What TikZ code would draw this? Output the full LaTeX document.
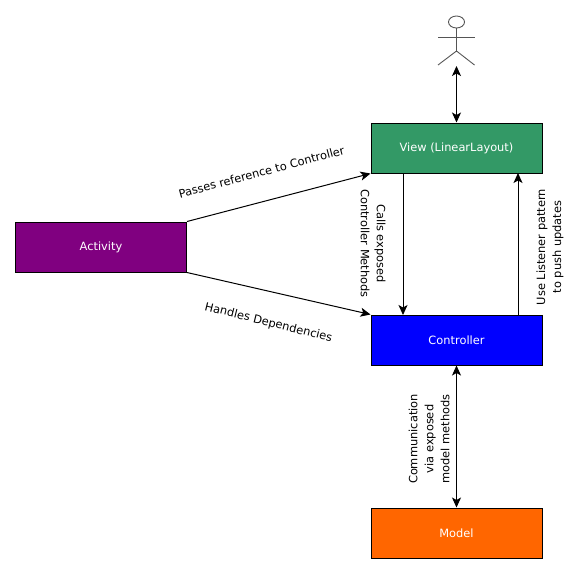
\documentclass[tikz,border=0pt]{standalone}
\usepackage{fontspec}
\setmainfont{DejaVu Sans}
\usetikzlibrary{arrows.meta}
\definecolor{viewgreen}{HTML}{339966}
\definecolor{actpurple}{HTML}{800080}
\definecolor{ctrlblue}{HTML}{0000FF}
\definecolor{modelorange}{HTML}{FF6600}
\definecolor{actorgrey}{HTML}{555555}
\tikzset{
  block/.style={draw=black,line width=1pt,minimum width=171pt,minimum height=50pt,inner sep=0pt,text=white,font=\fontsize{11.4}{13}\selectfont},
  conn/.style={line width=1pt,-{Stealth[length=10pt,width=9pt,inset=2.5pt]}},
  biconn/.style={line width=1pt,{Stealth[length=10pt,width=9pt,inset=2.5pt]}-{Stealth[length=10pt,width=9pt,inset=2.5pt]}},
  lbl/.style={inner sep=0pt,align=center,text=black,font=\fontsize{11.4}{16}\selectfont},
  actorline/.style={draw=actorgrey,line width=0.9pt}
}
\begin{document}
\begin{tikzpicture}[x=1pt,y=-1pt]
\useasboundingbox (0,0) rectangle (580,574);
\node[block,fill=viewgreen] (v) at (456.5,148) {\raisebox{-1.5pt}{View (LinearLayout)}};
\node[block,fill=actpurple] (a) at (101,247) {\raisebox{-1.5pt}{Activity}};
\node[block,fill=ctrlblue] (c) at (456.5,340) {\raisebox{-1.5pt}{Controller}};
\node[block,fill=modelorange] (m) at (456.5,533) {\raisebox{-1.5pt}{Model}};
% actor
\draw[actorline] (456.5,22) ellipse (8pt and 6pt);
\draw[actorline] (456.5,28) -- (456.5,51);
\draw[actorline] (438,37) -- (474.5,37);
\draw[actorline] (438,65) -- (456.5,51) -- (474.5,65);
\coordinate (foot) at (456.5,66);
\coordinate (vl) at (403,173);
\coordinate (vr) at (518,173);
\coordinate (cl) at (403,315);
\coordinate (cr) at (518,315);
\draw[biconn] (foot) -- (v.north);
\draw[conn] (a.north east) -- (v.south west);
\draw[conn] (a.south east) -- (c.north west);
\draw[conn] (vl) -- (cl);
\draw[conn] (cr) -- (vr);
\draw[biconn] (c.south) -- (m.north);
\node[lbl,rotate=15] (l1) at (261.5,172) {Passes reference to Controller};
\node[lbl,rotate=-14] (l2) at (268.5,323) {Handles Dependencies};
\node[lbl,rotate=-90] (l3) at (373,243.5) {Calls exposed\\Controller Methods};
\node[lbl,rotate=90] (l4) at (550,247) {Use Listener pattern\\to push updates};
\node[lbl,rotate=90] (l5) at (429,439) {Communication\\via exposed\\model methods};
\end{tikzpicture}
\end{document}
